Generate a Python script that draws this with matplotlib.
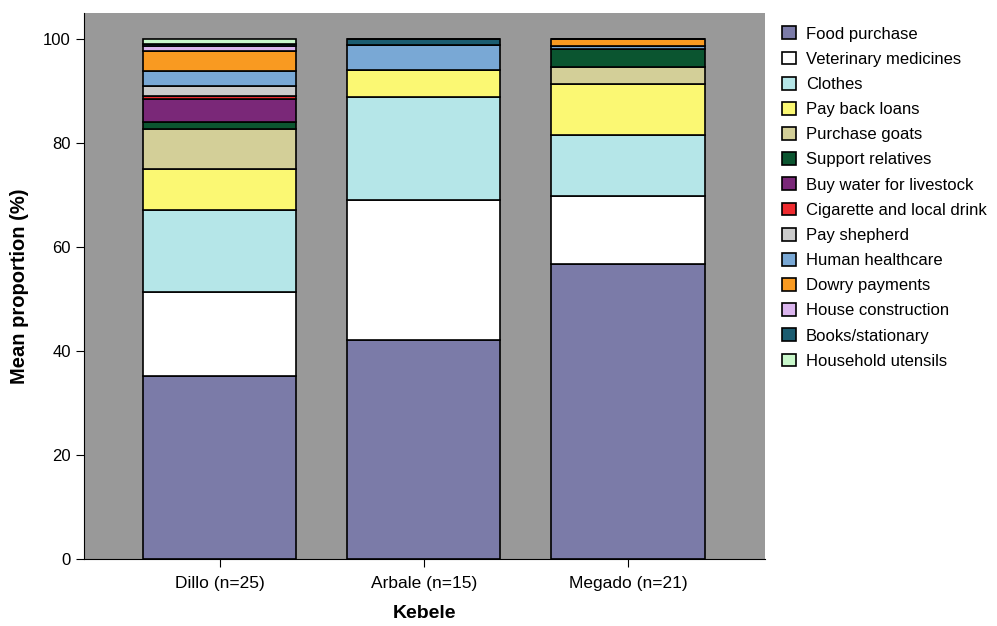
import matplotlib.pyplot as plt
import numpy as np

plt.rcParams['font.family'] = ['Liberation Sans', 'DejaVu Sans']

kebeles = ['Dillo (n=25)', 'Arbale (n=15)', 'Megado (n=21)']
categories = ['Food purchase', 'Veterinary medicines', 'Clothes', 'Pay back loans',
              'Purchase goats', 'Support relatives', 'Buy water for livestock',
              'Cigarette and local drink', 'Pay shepherd', 'Human healthcare',
              'Dowry payments', 'House construction', 'Books/stationary',
              'Household utensils']
colors = ['#7b7ba8', '#ffffff', '#b5e6e8', '#fbf873', '#d3cf98', '#0b5530',
          '#7a2878', '#ef2b2f', '#cbcbcb', '#79a8d5', '#f99a21', '#dbb5ee',
          '#1b5c70', '#c9f8cb']

dillo = [35.3, 16.1, 15.7, 8.0, 7.6, 1.4, 4.4, 0.5, 1.9, 2.9, 3.9, 1.0, 0.3, 1.0]
arbale = [42.2, 26.8, 19.9, 5.2, 0, 0, 0, 0, 0, 4.7, 0, 0, 1.2, 0]
megado = [56.8, 13.1, 11.7, 9.7, 3.4, 3.4, 0, 0, 0, 0.6, 1.3, 0, 0, 0]

values = np.array([dillo, arbale, megado])

fig = plt.figure(figsize=(9.97, 6.26), dpi=100)
ax = fig.add_axes([0.0843, 0.107, 0.683, 0.872])
ax.set_facecolor('#999999')

x = np.arange(len(kebeles))
bottom = np.zeros(len(kebeles))
for i, cat in enumerate(categories):
    ax.bar(x, values[:, i], 0.75, bottom=bottom, color=colors[i],
           edgecolor='black', linewidth=1.2, label=cat)
    bottom += values[:, i]

ax.set_xlim(-0.663, 2.67)
ax.set_ylim(0, 105)
ax.set_yticks([0, 20, 40, 60, 80, 100])
ax.set_xticks(x)
ax.set_xticklabels(kebeles, fontsize=12.5)
ax.tick_params(axis='y', labelsize=12, direction='out', length=6)
ax.tick_params(axis='x', length=6, pad=6)
for s in ['top', 'right']:
    ax.spines[s].set_visible(False)
ax.set_ylabel('Mean proportion (%)', fontsize=14.5, fontweight='bold', labelpad=10)
ax.set_xlabel('Kebele', fontsize=14, fontweight='bold', labelpad=10)

ax.legend(loc='upper left', bbox_to_anchor=(1.006, 1.0), frameon=False,
          fontsize=12, handlelength=0.8, handleheight=0.8, labelspacing=0.6,
          handletextpad=0.6, borderaxespad=0.4)

fig.savefig('out.png', dpi=100)
